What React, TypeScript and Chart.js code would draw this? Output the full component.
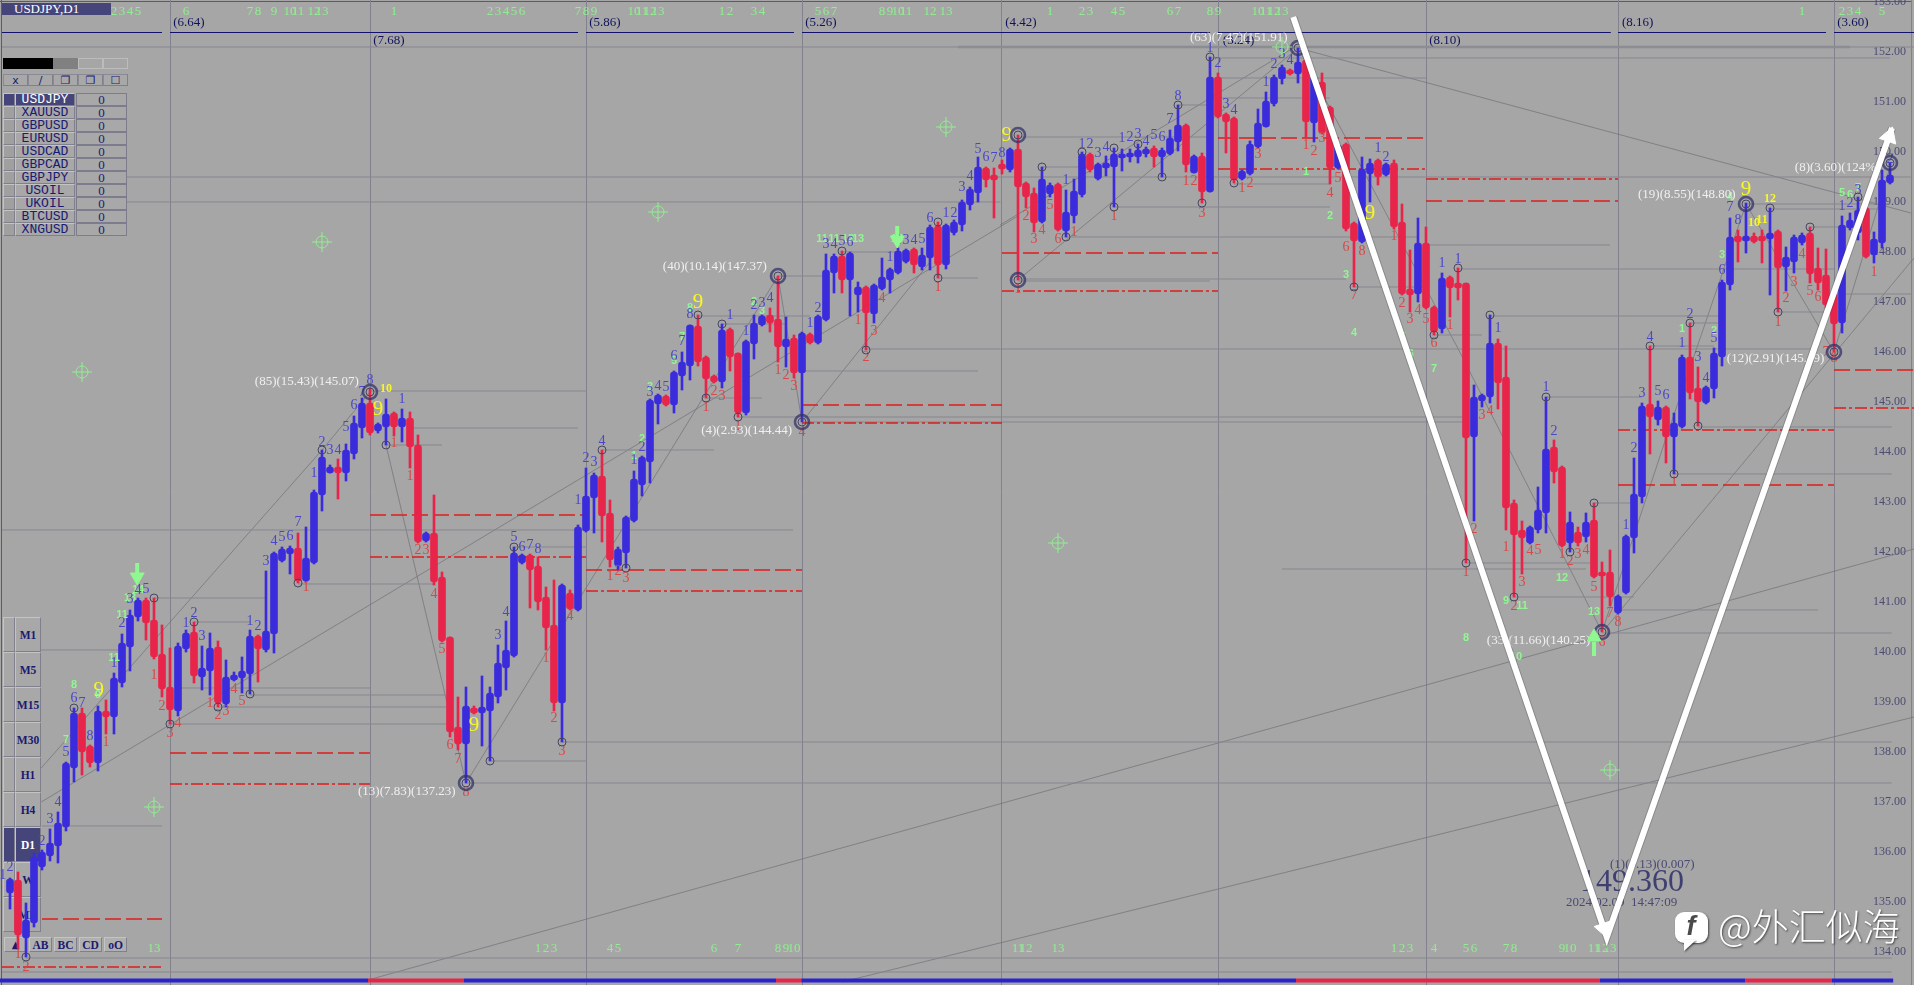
import React, { useEffect, useRef } from "react";
import { Chart, registerables } from "chart.js";

Chart.register(...registerables);

const opens = [
135.18,135.44,134.28,134.58,135.70,135.92,136.12,136.50,137.68,138.78,
138.12,137.78,138.82,138.70,139.38,140.10,140.70,141.04,140.64,139.96,
139.30,138.82,140.06,140.40,139.50,139.62,140.10,138.96,139.44,139.48,
139.56,140.32,140.04,140.36,141.82,141.96,142.08,141.42,141.78,143.14,
143.58,143.70,143.58,143.96,144.48,144.98,144.42,144.50,144.78,144.50,
144.68,144.14,142.22,142.38,141.50,140.30,138.50,138.16,138.88,138.78,
138.82,139.10,139.68,139.92,141.78,141.94,141.72,141.10,140.54,138.98,
141.18,140.84,142.42,143.08,143.52,142.78,141.72,141.98,142.62,143.34,
143.80,144.96,145.12,144.94,145.52,145.72,146.52,145.90,145.52,145.40,
146.46,145.98,144.78,146.16,146.54,146.74,146.66,146.10,146.28,145.58,
146.36,146.18,146.64,147.58,147.92,147.44,147.14,147.30,146.76,147.26,
147.44,147.58,147.80,148.06,147.70,147.88,148.52,147.74,148.38,148.54,
148.94,149.18,149.68,149.54,149.76,149.64,150.06,149.38,149.18,148.60,
149.16,149.36,148.42,148.72,149.14,149.96,149.46,149.68,149.70,149.88,
149.90,149.90,149.96,150.08,149.90,149.96,150.20,150.54,149.58,149.92,
149.20,151.50,150.76,150.68,149.46,149.56,150.10,150.50,150.96,151.46,
151.64,151.56,151.84,150.58,151.40,150.90,149.68,150.16,148.58,148.20,
149.56,149.84,149.54,149.78,148.60,147.26,147.16,148.18,146.90,146.46,
147.50,147.38,147.38,144.30,145.02,145.10,146.18,145.50,142.98,142.44,
142.18,142.44,142.78,144.10,143.70,142.18,142.40,142.30,142.64,141.60,
141.60,140.78,141.18,142.28,143.10,144.96,144.64,144.90,144.30,144.50,
145.90,145.28,144.98,145.26,145.90,147.34,148.32,148.22,148.32,148.32,
148.26,148.42,147.70,147.80,148.18,148.38,147.68,147.54,147.18,146.58,
148.48,148.38,148.88,147.94,148.18,149.38];
const highs = [
135.48,135.60,134.98,135.98,136.04,136.46,136.80,137.80,138.88,138.88,
138.14,138.92,139.04,139.58,140.36,140.84,141.08,141.08,141.08,140.54,
140.08,140.18,140.44,140.60,140.12,140.38,140.22,139.84,139.60,139.90,
140.44,140.34,141.62,142.00,142.10,142.12,142.38,142.50,143.24,144.04,
143.74,143.86,144.16,144.72,145.08,145.28,144.58,145.06,144.80,144.86,
144.80,144.34,142.40,143.14,141.60,140.30,139.10,139.30,138.92,139.52,
139.30,140.14,140.62,142.10,141.96,141.96,141.90,141.30,141.44,141.36,
141.24,142.54,143.68,143.58,144.04,143.04,142.10,142.72,143.62,143.92,
145.06,145.16,145.14,145.62,146.00,146.54,146.74,145.92,145.54,146.56,
146.48,145.98,146.24,146.74,146.74,146.88,147.52,146.70,146.34,146.40,
146.38,146.74,147.96,147.96,148.02,148.00,147.40,147.32,147.36,147.88,
147.68,148.08,148.06,148.08,148.08,148.54,148.60,148.56,148.64,149.04,
149.30,149.90,149.70,149.68,149.84,150.08,150.34,149.40,149.28,149.70,
149.38,149.38,149.24,149.46,150.00,149.98,149.78,149.92,150.08,150.06,
150.06,150.16,150.10,150.12,150.08,150.44,150.94,150.56,149.94,149.98,
151.90,151.58,150.78,150.70,149.64,150.22,150.86,151.20,151.54,151.74,
151.66,152.08,151.98,151.54,151.58,150.92,150.16,150.18,148.60,149.90,
149.86,149.86,149.78,149.84,148.96,148.04,148.68,148.50,146.92,147.58,
147.52,147.68,147.38,145.34,145.16,146.74,146.26,146.12,143.04,142.62,
142.52,143.30,145.10,144.24,143.72,142.80,142.50,142.78,142.98,141.80,
142.04,141.14,142.34,143.88,144.98,146.12,145.02,144.92,144.78,145.94,
146.58,145.70,145.32,146.08,147.44,148.68,148.44,148.98,148.38,148.44,
148.88,148.44,148.10,148.34,148.38,148.50,148.08,148.06,147.24,148.72,
148.78,149.10,148.90,148.40,149.64,149.78];
const lows = [
134.86,134.08,133.90,134.50,135.64,135.82,135.78,136.42,137.40,137.54,
137.70,137.62,138.36,138.36,139.30,139.62,140.62,140.24,139.86,139.10,
138.56,138.72,140.00,139.38,139.24,139.14,138.90,138.90,139.42,139.18,
139.16,139.40,140.00,139.98,141.80,141.56,141.38,141.40,141.76,142.82,
143.58,143.06,143.42,143.86,144.28,144.34,144.38,144.14,144.32,144.20,
143.68,142.18,142.20,141.34,140.20,138.30,138.04,137.38,138.76,138.12,
137.82,138.98,139.24,139.90,141.76,140.88,140.84,140.04,138.82,138.20,
140.84,140.82,142.40,142.38,142.20,141.70,141.64,141.68,142.60,143.12,
143.38,144.56,144.92,144.78,145.24,145.44,145.72,145.08,145.38,145.28,
145.62,144.70,144.74,145.86,146.52,146.40,145.80,145.70,145.48,144.60,
146.16,146.16,146.62,147.18,147.18,146.72,146.80,146.04,146.58,147.24,
147.18,147.56,147.78,147.58,147.64,147.64,147.48,147.66,148.34,148.42,
148.84,149.00,149.30,148.68,149.56,149.60,147.44,148.88,148.40,148.58,
149.10,148.42,148.30,148.58,149.10,149.60,149.44,149.52,148.90,149.62,
149.80,149.78,149.90,149.70,149.50,149.94,150.02,149.60,149.58,148.98,
149.20,150.68,149.98,149.38,149.44,149.54,150.08,150.50,150.92,151.36,
151.54,151.38,150.30,150.20,150.36,149.36,149.66,148.42,147.30,148.18,
149.00,149.34,149.52,148.46,147.14,146.80,147.00,146.86,146.34,146.38,
146.70,147.04,141.78,142.62,144.90,144.98,144.86,142.44,141.10,141.56,
142.16,142.38,142.38,143.38,142.10,142.00,142.12,142.20,141.48,140.40,
140.92,140.76,141.16,141.98,142.98,143.96,144.54,143.78,143.56,144.48,
145.06,144.52,144.96,145.08,145.72,147.24,147.80,147.98,148.18,147.78,
147.14,146.80,147.22,147.58,148.14,147.38,147.24,146.88,146.00,146.38,
148.44,148.24,147.88,147.78,148.08,149.36];
const closes = [
135.46,134.34,134.64,135.90,136.00,136.18,136.58,137.78,138.78,138.00,
137.78,138.82,138.70,139.48,140.18,140.74,141.04,140.58,139.90,139.26,
138.84,140.12,140.38,139.52,139.68,140.08,138.98,139.50,139.54,139.62,
140.32,140.06,140.42,141.98,142.06,142.08,141.42,141.88,143.20,143.90,
143.70,143.58,144.04,144.58,144.98,144.38,144.56,144.76,144.50,144.68,
144.10,142.20,142.38,141.40,140.22,138.40,138.16,138.92,138.78,138.90,
139.18,139.78,140.04,141.98,141.94,141.64,141.00,140.48,138.98,141.34,
140.86,142.50,143.12,143.54,142.72,141.84,142.06,142.70,143.46,143.90,
145.04,145.14,144.94,145.60,145.80,146.54,145.80,145.46,145.40,146.44,
145.90,144.78,146.22,146.58,146.72,146.58,146.10,146.26,145.58,146.38,
146.18,146.72,147.64,147.92,147.44,147.98,147.30,146.78,147.34,147.50,
147.66,148.02,148.04,147.74,147.94,148.50,147.74,148.54,148.60,149.00,
149.26,149.70,149.44,149.44,149.66,150.06,149.30,149.10,148.58,149.46,
149.34,148.44,148.80,149.22,149.96,149.64,149.76,149.78,149.96,149.96,
149.98,150.04,150.06,149.90,150.04,150.28,150.54,149.74,149.92,149.20,
151.50,150.70,150.60,149.44,149.62,150.16,150.58,151.02,151.50,151.70,
151.56,151.80,150.60,151.50,150.38,149.68,150.14,148.46,148.22,149.66,
149.78,149.50,149.76,148.50,147.16,147.14,148.18,146.88,146.40,147.48,
147.28,147.28,144.28,145.10,145.14,146.18,145.38,142.88,142.34,142.28,
142.50,142.84,144.06,143.60,142.12,142.60,142.18,142.60,141.50,141.52,
141.10,141.12,142.32,143.16,144.92,144.70,144.90,144.30,144.58,145.90,
145.18,145.00,145.30,145.98,147.40,148.30,148.20,148.32,148.20,148.22,
148.38,147.68,147.90,148.30,148.34,147.56,147.38,146.94,146.56,148.54,
148.64,148.84,147.90,148.26,149.44,149.54];

const periodBars = [20, 45, 72, 99, 124, 151, 177, 201, 228];

type Seg = [number, number, number];
const levelLines: Seg[] = [
[-1,238,152.10],[14.6,237.6,149.50],[14.6,123.8,149.00],[-1,97.9,142.44],[45,72,145.22],[50,71,144.48],
[18,32,141.08],[23,30,140.60],[3.9,14,140.04],[4,19,136.52],[36,53,141.36],[21,45,139.28],[30,54.4,139.14],
[26,54.7,138.90],[20,55,138.56],[60,72,137.82],[57,235.2,137.38],[69,235.2,138.20],[2,235.2,133.88],[-1,235.2,133.60],
[181,228,147.66],[126,167,147.46],[168,177,147.30],[185,214,146.72],[178,184,146.34],[107,226,146.06],[192,204,145.10],
[91,182,144.70],[99,182,144.60],[210,214,146.58],[205,213,146.12],[211,235.2,144.50],[208,235.2,143.56],[198,203,142.98],
[182,198,141.78],[159,197,141.66],[188,203,141.10],[201,226,140.84],[199,235.2,140.38],[177,200,148.14],[229,237.6,147.16],
[217,235,148.96],[220,234,148.86],[225,231,148.50],[221,228,146.80],[150,235,151.88],[126,150,150.30],[146,150,150.94],
[129,137,149.70],[153,165,149.36],[138,165,148.90],[132,176,148.30],[150,177,151.48],[150,165,151.08],[126,150,147.42],
[104,111,148.00],[96,102,147.52],[86,100,146.72],[89,97,146.56],[99,121,145.62],[116,121,147.48],[87,94,145.08],
[74,88,144.04],[63,72,142.10],[47,54,144.14],
];
const heavyLevel: Seg[] = [[118.5, 230, 152.10]];
const longDashLevels: Seg[] = [
[4,19,134.66],[20,45,137.98],[45,72,142.74],[72,99,141.64],[99,124,144.94],[124,151,147.98],[151,177,150.28],[177,201,149.02],[201,228,143.34],[228,238,145.64],
];
const dashDotLevels: Seg[] = [
[-1,19,133.70],[20,45,137.36],[45,72,141.90],[72,99,141.22],[99,124,144.58],[124,151,147.22],[151,177,149.66],[177,201,149.46],[201,228,144.44],[228,238,144.88],
];
const rangeLines: Seg[] = [
[-1,19,152.39],[20,71,152.39],[72,98,152.39],[99,150,152.39],[151,200.1,152.39],[201,227,152.39],[228,238,152.39],
];
const trendUp: Seg[] = [[-1.25,44.75,133.43],[56.75,95.75,133.43],[98.9,160.75,133.43],[198.75,216.9,133.43],[227.75,235.4,133.43]];
const trendDown: Seg[] = [[44.75,56.75,133.43],[95.75,98.9,133.43],[160.75,198.75,133.43],[216.9,227.75,133.43]];

type Pt = [number, number];
const zigzagLines: Pt[][] = [
[[104,133.40],[238,138.70]],
[[44.75,133.44],[238,142.06]],
[[3.9,137.00],[126,148.72]],
[[3.9,137.68],[39,144.04],[45,145.20]],
[[47,144.14],[57,137.38]],
[[57,137.38],[96,147.52]],
[[96,147.52],[99,144.60]],
[[99,144.60],[115,147.80]],
[[126,147.44],[161,152.08]],
[[123.75,148.54],[160.4,152.08]],
[[161,152.08],[180.9,146.10],[199,140.40]],
[[161,152.08],[237.6,148.78]],
[[199,140.40],[207,144.28],[217,148.96]],
[[217,148.96],[228,146.00]],
[[228,146.00],[235,149.70]],
[[199.25,140.44],[238,147.88]],
];

const smallRings: Pt[] = [
[2,133.90],[8,138.88],[18,141.08],[20,138.56],[23,140.60],[26,138.90],[30,139.16],[36,141.38],[39,144.04],[47,144.14],
[63,142.10],[60,137.82],[69,138.20],[74,144.04],[77,141.68],[86,146.74],[87,145.08],[89,146.56],[91,144.70],[104,148.02],
[107,146.04],[116,148.60],[116,147.48],[129,149.70],[132,148.30],[134,150.00],[138,150.08],[138,148.90],[141,150.16],[144,149.50],
[146,150.94],[149,148.98],[150,151.90],[153,149.38],[168,147.30],[178,146.34],[181,147.68],[185,146.74],[182,141.78],[188,141.10],
[192,145.10],[195,142.00],[198,142.98],[205,146.12],[208,143.56],[210,146.58],[211,144.52],[220,148.88],[221,146.80],[225,148.50],[231,149.10],
[45,145.20],[57,137.38],[96,147.52],[99,144.60],[126,147.44],[126,150.34],[161,152.08],[199,140.40],[228,146.00],[217,148.96],[235,149.78],
];
const majorRings: Pt[] = [
[45,145.20],[57,137.38],[96,147.52],[99,144.60],[126,147.44],[126,150.34],[161,152.08],[199,140.40],[228,146.00],[217,148.96],[235,149.78],
];
const targets: Pt[] = [[39,148.20],[9,145.60],[18,136.90],[117,150.50],[81,148.80],[159,152.10],[131,142.18],[200,137.64]];

type Lbl = [number, number, string];
const blueCounts: Lbl[] = [
[0,135.70,'2'],[-0.9,135.54,'1'],[4,136.22,'2'],[5,136.66,'3'],[6,137,'4'],[7,138,'5'],[8,139.08,'6'],[9,138.98,'7'],[10,138.32,'8'],[13,139.78,'1'],
[14,140.58,'2'],[15,141.06,'3'],[16,141.24,'4'],[17,141.26,'5'],[22,140.58,'1'],[23,140.78,'2'],[24,140.32,'3'],[30,140.62,'1'],[31,140.52,'2'],[32,141.82,'3'],
[33,142.22,'4'],[34,142.30,'5'],[35,142.32,'6'],[36,142.60,'7'],[38,143.58,'1'],[39,144.20,'2'],[40,144.04,'3'],[41,144.04,'4'],[42,144.50,'5'],[43,144.94,'6'],
[44,145.20,'7'],[45,145.44,'8'],[49,145.06,'1'],[63,142.30,'5'],[64,142.10,'6'],[65,142.14,'7'],[66,142.06,'8'],[71,143.04,'1'],[72,143.88,'2'],[73,143.80,'3'],
[74,144.22,'4'],[61,140.34,'3'],[62,140.80,'4'],[78,143.84,'1'],[79,144.10,'2'],[80,145.20,'3'],[81,145.32,'4'],[82,145.30,'5'],[83,145.92,'6'],[84,146.22,'7'],
[85,146.76,'8'],[90,146.74,'1'],[92,146.42,'1'],[93,146.94,'2'],[94,146.98,'3'],[95,147.08,'4'],[100,146.58,'1'],[101,146.88,'2'],[102,148.16,'3'],[103,148.16,'4'],
[104,148.22,'5'],[105,148.20,'6'],[110,147.90,'1'],[111,148.24,'2'],[112,148.24,'3'],[113,148.24,'4'],[114,148.26,'5'],[115,148.68,'6'],[117,148.78,'1'],[118,148.78,'2'],
[119,149.30,'3'],[120,149.52,'4'],[121,150.06,'5'],[122,149.90,'6'],[123,149.88,'7'],[124,149.98,'8'],[132,149.44,'1'],[134,150.16,'1'],[135,150.16,'2'],[136,149.98,'3'],
[137,150.10,'4'],[139,150.28,'1'],[140,150.30,'2'],[141,150.36,'3'],[142,150.22,'4'],[143,150.34,'5'],[144,150.30,'6'],[145,150.66,'7'],[146,151.12,'8'],[150,152.08,'1'],
[151,151.78,'2'],[152,150.96,'3'],[153,150.84,'4'],[157,151.40,'1'],[158,151.76,'2'],[159,151.96,'3'],[160,151.84,'4'],[171,150.08,'1'],[172,149.90,'2'],[179,147.78,'1'],
[181,147.86,'1'],[186,146.48,'1'],[192,145.30,'1'],[193,144.42,'2'],[204,145.18,'3'],[205,146.30,'4'],[206,145.22,'5'],[207,145.14,'6'],[202,142.54,'1'],[203,144.08,'2'],
[209,146.18,'1'],[210,146.76,'2'],[211,145.90,'3'],[212,145.48,'4'],[213,146.28,'5'],[214,147.64,'6'],[215,148.90,'7'],[216,148.64,'8'],[229,148.92,'1'],[230,148.98,'2'],
[231,149.24,'3'],[235,149.86,'2'],
];
const redCounts: Lbl[] = [
[1,133.96,'1'],[2,133.70,'2'],[12,138.20,'1'],[18,139.54,'1'],[19,138.92,'2'],[20,138.38,'3'],[21,138.58,'4'],[25,138.98,'1'],[26,138.74,'2'],[27,138.82,'3'],
[28,139.26,'4'],[29,139.02,'5'],[37,141.30,'1'],[53,141.16,'4'],[54,140.06,'5'],[55,138.14,'6'],[56,137.86,'7'],[57,137.20,'8'],[48,144.18,'1'],[50,143.52,'1'],
[51,142.04,'2'],[52,142.04,'3'],[67,139.88,'1'],[68,138.68,'2'],[69,138.02,'3'],[70,140.72,'4'],[75,141.52,'1'],[76,141.62,'2'],[77,141.48,'3'],[87,144.90,'1'],
[88,145.22,'2'],[89,145.12,'3'],[91,144.52,'1'],[96,145.64,'1'],[97,145.54,'2'],[98,145.32,'3'],[99,144.40,'4'],[106,146.64,'1'],[107,145.90,'2'],[108,146.42,'3'],
[109,147.08,'4'],[116,147.30,'1'],[127,148.72,'2'],[128,148.26,'3'],[129,148.44,'4'],[130,148.94,'5'],[131,148.26,'6'],[133,148.40,'1'],[126,147.26,'1'],[138,148.72,'1'],
[147,149.42,'1'],[148,149.42,'2'],[149,148.78,'3'],[154,149.28,'1'],[155,149.38,'2'],[156,149.96,'3'],[162,150.14,'1'],[163,150.02,'2'],[164,150.28,'3'],[165,149.18,'4'],
[166,149.48,'5'],[167,148.10,'6'],[169,148.02,'8'],[168,147.14,'7'],[173,148.32,'1'],[174,146.98,'2'],[175,146.66,'3'],[176,146.84,'4'],[177,146.66,'5'],[178,146.18,'6'],
[180,146.54,'1'],[184,144.74,'3'],[185,144.82,'4'],[182,141.60,'1'],[183,142.46,'2'],[187,142.10,'1'],[188,140.92,'2'],[189,141.40,'3'],[190,142.02,'4'],[191,142.04,'5'],
[194,141.96,'1'],[195,141.82,'2'],[196,141.96,'3'],[197,142.04,'4'],[198,141.30,'5'],[199,140.20,'6'],[200,140.78,'7'],[201,140.60,'8'],[208,143.40,'1'],[221,146.60,'1'],
[222,147.08,'2'],[223,147.40,'3'],[224,147.96,'4'],[225,147.22,'5'],[226,147.10,'6'],[227,146.00,'7'],[228,145.88,'8'],[233,147.60,'1'],
];
const greenMid: Lbl[] = [
[8,139.34,'8'],[7,138.24,'7'],[14,140.74,'11'],[13,139.88,'11'],[15,141.08,'13'],[16,141.24,'14'],[11,139.14,'9'],
[162,149.60,'1'],[165,148.72,'2'],[167,147.54,'3'],[168,146.38,'4'],[174.1,146.30,'5'],[175.1,145.96,'6'],[178,145.66,'7'],[182,140.28,'8'],[187,141.02,'9'],
[188.25,139.90,'10'],[189,140.92,'11'],[194,141.48,'12'],[198,140.80,'13'],[209,146.46,'1'],[213,146.42,'2'],[214,147.94,'3'],[215,149.10,'4'],[229,149.18,'5'],[230,149.14,'6'],[231,149.28,'7'],
[78,143.92,'1'],[79,144.26,'2'],[80,145.30,'3'],[83,145.82,'5'],[84,146.30,'7'],[85,146.88,'8'],[93,147.00,'2'],[94,146.82,'3'],
[101.5,148.26,'11'],[103,148.26,'11'],[104.75,148.26,'12'],[106,148.26,'13'],[110.9,148.26,'14'],
];
const greenTopBars = [13,14,15,16,22,30,31,33,35,36,38,39,48,60,61,62,63,64,71,72,73,78,79,80,81,89,90,93,94,101,102,103,109,110,111,112,115,117,130,134,135,138,139,145,146,150,151,156,157,158,159,224,229,230,231,234];
const greenTopText = ['2','3','4','5','6','7','8','9','10','11','12','13','1','2','3','4','5','6','7','8','9','10','11','12','13','1','2','3','4','5','6','7','8','9','10','11','12','13','1','2','3','4','5','6','7','8','9','10','11','12','13','1','2','3','4','5'];
const greenBottomBars = [18,66,67,68,75,76,88,91,96,97,98,126,127,131,173,174,175,178,182,183,187,188,194,195,198,199,200];
const greenBottomText = ['13','1','2','3','4','5','6','7','8','9','10','11','12','13','1','2','3','4','5','6','7','8','9','10','11','12','13'];
const yellowNines: Pt[] = [[11.1,139.24],[46,144.86],[58,138.54],[86,147.00],[124.6,150.34],[170,148.78],[217,149.26]];
const yellowSmall: Lbl[] = [[47,145.26,'10'],[218,148.58,'10'],[219,148.64,'11'],[220,149.06,'12']];
const swingNotes: Lbl[] = [
[30.6,145.40,'(85)(15.43)(145.07)'],[43.5,137.20,'(13)(7.83)(137.23)'],[81.6,147.70,'(40)(10.14)(147.37)'],[86.4,144.42,'(4)(2.93)(144.44)'],
[147.5,152.28,'(63)(7.47)(151.91)'],[184.6,140.22,'(33)(11.66)(140.25)'],[214.6,145.86,'(12)(2.91)(145.49)'],[203.5,149.14,'(19)(8.55)(148.80)'],[223.1,149.68,'(8)(3.60)(124%)'],
];
const rangeNotes: Lbl[] = [
[20.4,152.58,'(6.64)'],[45.4,152.22,'(7.68)'],[72.4,152.58,'(5.86)'],[99.4,152.58,'(5.26)'],[124.4,152.58,'(4.42)'],[151.6,152.22,'(3.24)'],[177.4,152.22,'(8.10)'],[201.5,152.58,'(8.16)'],[228.4,152.58,'(3.60)'],
];
const priceNote: Lbl = [196.25, 135.38, '149.360'];
const priceSub: Lbl = [200, 135.74, '(1)(0.13)(0.007)'];
const priceTime: Lbl = [194.5, 134.98, '2024.02.09  14:47:09'];

const arrowStems: Pt[][] = [[[15.9,141.78],[15.9,141.54]],[[110.9,148.52],[110.9,148.28]],[[198,140.20],[198,139.92]]];
const arrowHeads: [number, number, number][] = [[15.9,141.50,180],[110.9,148.24,180],[198,140.30,0]];
const whiteLine: Pt[] = [[160.4,152.70],[199.6,134.30],[235.25,150.48]];
const whiteHeads: [number, number, number][] = [[199.25,134.47,161.2],[234.9,150.31,19.2]];

const symbols = ["USDJPY","XAUUSD","GBPUSD","EURUSD","USDCAD","GBPCAD","GBPJPY","USOIL","UKOIL","BTCUSD","XNGUSD"];
const timeframes = ["M1","M5","M15","M30","H1","H4","D1","W","MN"];
const patternButtons = ["AB","BC","CD","oO"];
const swatches = ["#000","#000","#808080","#a6a6a6","#a6a6a6"];
const toolbar = ["x","/","❐","❐","☐"];

const BLUE = "#3a2cdc";
const RED = "#e8244a";
const SERIF = '"Liberation Serif"';

const segs = (list: Seg[]) => list.flatMap(([a, b, p]) => [{ x: a, y: p }, { x: b, y: p }, { x: b, y: null }]);
const polys = (list: Pt[][]) => list.flatMap((l) => [...l.map(([x, y]) => ({ x, y })), { x: l[l.length - 1][0], y: null }]);
const line = (label: string, data: any[], color: string, width: number, order: number, dash: number[] = []) => ({
  type: "line", label, data, borderColor: color, borderWidth: width, borderDash: dash,
  pointRadius: 0, fill: false, tension: 0, spanGaps: false, order,
});
const points = (label: string, data: any[], style: string, radius: number, color: string, width: number, order: number, fillColor = "transparent", rotation: any = 0) => ({
  type: "scatter", label, data, showLine: false, pointStyle: style, pointRadius: radius,
  pointBorderColor: color, pointBorderWidth: width, pointBackgroundColor: fillColor, pointRotation: rotation, order,
});

const annotations = {
  id: "annotations",
  afterDatasetDraw(chart: any, args: any) {
    if (chart.data.datasets[args.index].label !== "bodies") return;
    const { ctx, scales } = chart;
    const X = (v: number) => scales.x.getPixelForValue(v);
    const Y = (v: number) => scales.y.getPixelForValue(v);
    const put = (bar: number, price: number, text: string, font: string, color: string, align: CanvasTextAlign = "center") => {
      ctx.font = font; ctx.fillStyle = color; ctx.textAlign = align; ctx.textBaseline = "middle";
      ctx.fillText(text, X(bar), Y(price));
    };
    ctx.save();
    greenTopBars.forEach((b, i) => put(b, 152.80, greenTopText[i], `13px ${SERIF}`, "#90ee90"));
    greenBottomBars.forEach((b, i) => put(b, 134.06, greenBottomText[i], `13px ${SERIF}`, "#90ee90"));
    greenMid.forEach(([b, p, t]) => put(b, p, t, `bold 11px "Liberation Sans"`, "#90f890"));
    blueCounts.forEach(([b, p, t]) => put(b, p, t, `14px ${SERIF}`, "#4a46c8"));
    redCounts.forEach(([b, p, t]) => put(b, p, t, `14px ${SERIF}`, "#d84848"));
    yellowNines.forEach(([b, p]) => put(b, p, "9", `21px ${SERIF}`, "#f8f820"));
    yellowSmall.forEach(([b, p, t]) => put(b, p, t, `bold 12px ${SERIF}`, "#f8f820"));
    rangeNotes.forEach(([b, p, t]) => put(b, p, t, `13px ${SERIF}`, "#12125a", "left"));
    swingNotes.forEach(([b, p, t]) => put(b, p, t, `13px ${SERIF}`, "#f0f0f0", "left"));
    put(priceNote[0], priceNote[1], priceNote[2], `32px ${SERIF}`, "#3f3f72", "left");
    put(priceSub[0], priceSub[1], priceSub[2], `13px ${SERIF}`, "#4a4a72", "left");
    put(priceTime[0], priceTime[1], priceTime[2], `13px ${SERIF}`, "#4a4a72", "left");
    ctx.restore();
  },
  afterDraw(chart: any) {
    const { ctx } = chart;
    ctx.save();
    ctx.shadowColor = "rgba(40,40,40,0.75)";
    ctx.shadowBlur = 2;
    ctx.shadowOffsetX = 1;
    ctx.shadowOffsetY = 1;
    ctx.fillStyle = "#ffffff";
    ctx.beginPath();
    ctx.roundRect(1675, 912, 33, 31, 9);
    ctx.fill();
    ctx.beginPath();
    ctx.moveTo(1684, 940); ctx.lineTo(1684, 951); ctx.lineTo(1696, 940); ctx.closePath(); ctx.fill();
    ctx.shadowColor = "transparent";
    ctx.fillStyle = "#4a4a4a";
    ctx.font = `italic bold 27px "Liberation Sans"`;
    ctx.textAlign = "center"; ctx.textBaseline = "middle";
    ctx.fillText("f", 1691, 928);
    ctx.shadowColor = "rgba(40,40,40,0.75)";
    ctx.fillStyle = "#ffffff";
    ctx.textAlign = "left";
    ctx.font = `300 37px "Noto Sans CJK SC"`;
    ctx.fillText("@外汇似海", 1718, 927);
    ctx.restore();
  },
};

const bevel: React.CSSProperties = {
  position: "absolute", boxSizing: "border-box", borderTop: "1px solid #c4c4c4", borderLeft: "1px solid #c4c4c4",
  borderRight: "1px solid #80808c", borderBottom: "1px solid #80808c", background: "#a8a8a8",
  display: "flex", alignItems: "center", justifyContent: "center", overflow: "hidden",
};

export default function App() {
  const ref = useRef<HTMLCanvasElement>(null);
  useEffect(() => {
    const up = opens.map((o, i) => closes[i] >= o);
    const colors = up.map((u) => (u ? BLUE : RED));
    const chart = new Chart(ref.current as HTMLCanvasElement, {
      type: "bar",
      data: {
        datasets: [
          line("zigzag", polys(zigzagLines), "rgba(112,112,120,0.7)", 1, 40),
          line("levels", segs(levelLines), "#85858f", 1, 39),
          line("heavy", segs(heavyLevel), "#8c8c94", 2.5, 38),
          line("ranges", segs(rangeLines), "#12126e", 1.2, 37),
          line("longDash", segs(longDashLevels), "#e01c1c", 1.5, 36, [16, 5]),
          line("dashDot", segs(dashDotLevels), "#e01c1c", 1.5, 35, [12, 3, 3, 3]),
          line("trendUp", segs(trendUp), "#2a22cc", 4, 34),
          line("trendDown", segs(trendDown), RED, 4, 33),
          { type: "bar", label: "wicks", data: opens.map((_, i) => ({ x: i, y: [lows[i], highs[i]] })), backgroundColor: colors, barThickness: 2, grouped: false, order: 21 },
          { type: "bar", label: "bodies", data: opens.map((o, i) => ({ x: i, y: [o, closes[i]] })), backgroundColor: colors, barThickness: 7, grouped: false, borderRadius: 3, borderSkipped: false, order: 20 },
          points("rings", smallRings.map(([x, y]) => ({ x, y })), "circle", 4, "#46465e", 1, 10),
          points("majorRings", majorRings.map(([x, y]) => ({ x, y })), "circle", 7, "rgba(50,50,105,0.75)", 2.6, 9),
          points("targetCircle", targets.map(([x, y]) => ({ x, y })), "circle", 6, "#90ee90", 1, 8),
          points("targetCross", targets.map(([x, y]) => ({ x, y })), "cross", 10, "#90ee90", 1, 7),
          line("arrowStems", polys(arrowStems), "#90f890", 4, 6),
          points("arrowHeads", arrowHeads.map(([x, y]) => ({ x, y })), "triangle", 8, "#90f890", 1, 5, "#90f890", arrowHeads.map((a) => a[2])),
          line("whiteHalo", whiteLine.map(([x, y]) => ({ x, y })), "rgba(60,60,60,0.28)", 8, 3),
          line("white", whiteLine.map(([x, y]) => ({ x, y })), "#ffffff", 6, 2),
          points("whiteHeads", whiteHeads.map(([x, y]) => ({ x, y })), "triangle", 10, "#ffffff", 1, 1, "#ffffff", whiteHeads.map((a) => a[2])),
        ] as any,
      },
      options: {
        animation: false,
        responsive: false,
        devicePixelRatio: 1,
        events: [],
        layout: { padding: 0, autoPadding: false },
        plugins: { legend: { display: false }, tooltip: { enabled: false } },
        scales: {
          x: {
            type: "linear", min: -1.25, max: 238, offset: false,
            grid: { display: true, offset: false, color: "#82828f", lineWidth: 1, drawTicks: false },
            border: { display: false },
            ticks: { display: false, autoSkip: false },
            afterBuildTicks: (s: any) => { s.ticks = periodBars.map((value) => ({ value })); },
            afterFit: (s: any) => { s.paddingLeft = 0; s.paddingRight = 0; s.height = 0; },
          },
          y: {
            type: "linear", position: "right", min: 133.34, max: 153.04,
            grid: { display: false },
            border: { display: false },
            ticks: {
              mirror: true, stepSize: 1, includeBounds: false, autoSkip: false, padding: -8,
              color: "#4c4c72", font: { family: "Liberation Serif", size: 12 },
              callback: (v: any) => Number(v).toFixed(2),
            },
            afterFit: (s: any) => { s.paddingTop = 0; s.paddingBottom = 0; s.width = 0; },
          },
        },
      } as any,
      plugins: [annotations],
    } as any);
    return () => chart.destroy();
  }, []);

  const ink = "#1a1a70";
  return (
    <div style={{ position: "fixed", left: 0, top: 0, width: 1914, height: 985, overflow: "hidden", background: "#a6a6a6", fontFamily: SERIF }}>
      <div style={{ position: "absolute", left: 0, top: 1, width: 1912, height: 1, background: "#5a5a78" }} />
      <div style={{ position: "absolute", left: 1, top: 0, width: 1, height: 985, background: "#5a5a78" }} />
      <div style={{ position: "absolute", left: 1911, top: 0, width: 1, height: 985, background: "#80809a" }} />
      <div style={{ position: "absolute", left: 2, top: 3, width: 109, height: 12, background: "#45457a", color: "#fff", fontSize: 13, lineHeight: "12px", paddingLeft: 12, boxSizing: "border-box" }}>USDJPY,D1</div>
      {swatches.map((c, i) => (
        <div key={i} style={{ ...bevel, left: 3 + i * 25, top: 58, width: 25, height: 11, background: c, borderColor: c === "#a6a6a6" ? "#bcbcbc" : c }} />
      ))}
      {toolbar.map((t, i) => (
        <div key={i} style={{ ...bevel, left: 3 + i * 25, top: 74, width: 25, height: 12, fontSize: 11, color: ink, fontFamily: '"DejaVu Sans"', borderTopColor: "#8a8a96", borderLeftColor: "#8a8a96" }}>{t}</div>
      ))}
      {symbols.map((s, i) => (
        <React.Fragment key={s}>
          <div style={{ ...bevel, left: 3, top: 93 + i * 13, width: 12, height: 13, background: i === 0 ? "#45457a" : "#a0a0a0" }} />
          <div style={{ ...bevel, left: 15, top: 93 + i * 13, width: 60, height: 13, background: i === 0 ? "#45457a" : "#a8a8a8", color: i === 0 ? "#fff" : ink, fontFamily: '"Liberation Mono"', fontSize: 13 }}>{s}</div>
          <div style={{ ...bevel, left: 76, top: 93 + i * 13, width: 51, height: 13, color: ink, fontSize: 13, borderColor: "#7c7c8c" }}>0</div>
        </React.Fragment>
      ))}
      {timeframes.map((t, i) => (
        <React.Fragment key={t}>
          <div style={{ ...bevel, left: 3, top: 617 + i * 35, width: 12, height: 35, background: t === "D1" ? "#45457a" : "#a8a8a8" }} />
          <div style={{ ...bevel, left: 15, top: 617 + i * 35, width: 26, height: 35, background: t === "D1" ? "#45457a" : "#a8a8a8", color: t === "D1" ? "#fff" : ink, fontWeight: 700, fontSize: 11.5 }}>{t}</div>
        </React.Fragment>
      ))}
      <div style={{ ...bevel, left: 4, top: 937, width: 23, height: 15, color: ink, fontSize: 10, fontFamily: '"DejaVu Sans"', background: "#b0b0b0" }}>▲</div>
      {patternButtons.map((t, i) => (
        <div key={t} style={{ ...bevel, left: 29 + i * 25, top: 937, width: 23, height: 15, color: ink, fontWeight: 700, fontSize: 11.5, background: "#b0b0b0" }}>{t}</div>
      ))}
      <canvas ref={ref} width={1914} height={985} style={{ position: "absolute", left: 0, top: 0, display: "block" }} />
    </div>
  );
}
